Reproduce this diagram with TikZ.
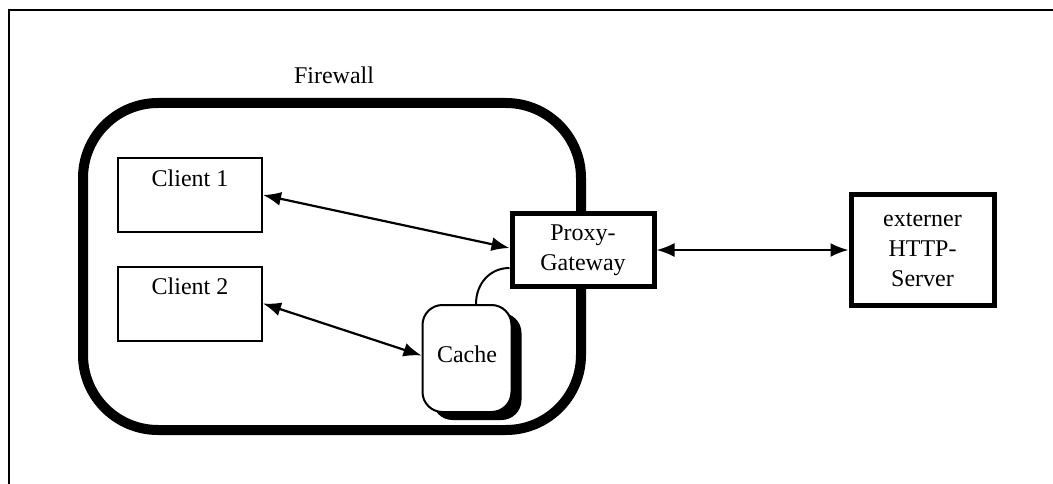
\documentclass[tikz,border=0pt]{standalone}
\usepackage{fontspec}
\setmainfont{Liberation Serif}
\usetikzlibrary{arrows.meta,shadows}
\begin{document}
\begin{tikzpicture}[x=1pt,y=-1pt,
  every node/.style={font=\fontsize{24}{30}\selectfont},
  thinbox/.style={draw,line width=2pt,fill=white,minimum width=144pt,minimum height=74pt,inner sep=0pt},
  thickbox/.style={draw,line width=5pt,fill=white,align=center,inner sep=0pt},
  cachebox/.style={draw,line width=2pt,fill=white,rounded corners=20pt,minimum width=89pt,minimum height=107pt,inner sep=0pt,text depth=8pt,
    general shadow={fill=black,shadow xshift=10pt,shadow yshift=-8pt}},
  toplabel/.style={anchor=north,inner sep=0pt,yshift=-12.5pt},
  tipx/.tip={Latex[length=18pt,width=14pt]},
  biarrow/.style={line width=2.2pt,tipx-tipx},
  wall/.style={line width=10pt,rounded corners=75pt},
  frameline/.style={line width=2pt}]
\useasboundingbox (0,0) rectangle (1053,484);
% outer frame
\coordinate (fb) at (9,484);
\coordinate (ft) at (9,10);
\coordinate (fr) at (1053,10);
\draw[frameline] (fb) -- (ft) -- (fr);
% firewall
\draw[wall] (83,103) rectangle (581,430);
\node (fw) at (334,75) {Firewall};
% clients
\node[thinbox,label={[toplabel]north:Client 1}] (c1) at (190,195) {};
\node[thinbox,label={[toplabel]north:Client 2}] (c2) at (190,303.5) {};
% cache
\node[cachebox] (cache) at (467,358.5) {Cache};
% proxy
\node[thickbox,minimum width=142pt,minimum height=72pt] (proxy) at (583,250) {Proxy-\\Gateway};
% server
\node[thickbox,minimum width=143pt,minimum height=110pt] (srv) at (922.5,250) {externer\\HTTP-\\Server};
% connectors
\draw[biarrow] (c1.east) -- ([yshift=2pt]proxy.west);
\draw[biarrow] (c2.east) -- ([yshift=3pt]cache.west);
\draw[biarrow] (proxy.east) -- (srv.west);
\draw[line width=2pt] ([xshift=9pt]cache.north) .. controls +(0,-20) and +(-20,0) .. ([yshift=-18pt]proxy.west);
\end{tikzpicture}
\end{document}
